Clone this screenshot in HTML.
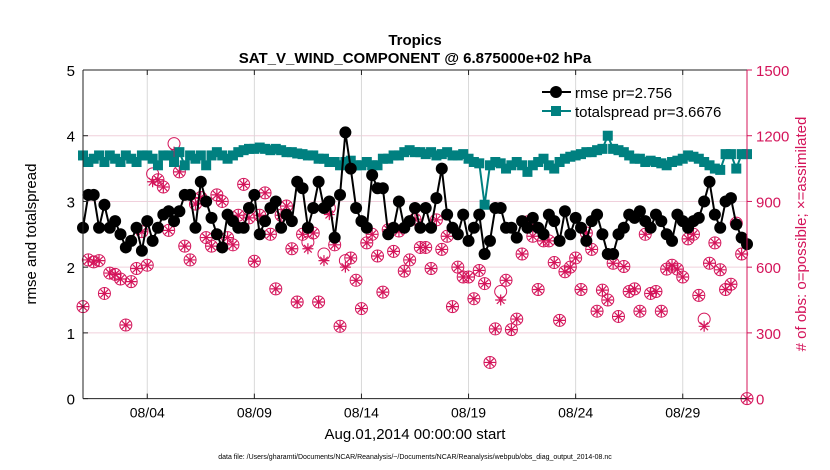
<!DOCTYPE html>
<html><head><meta charset="utf-8"><style>
body{margin:0;background:#fff;}
svg{display:block;font-family:"Liberation Sans",sans-serif;}
</style></head><body>
<svg id="chart" width="830" height="470">
<g id="grid"></g>
<g id="plot"></g>
<g id="axes"></g>
<text x="415" y="45" text-anchor="middle" font-size="15" font-weight="bold">Tropics</text>
<text x="415" y="63" text-anchor="middle" font-size="15" font-weight="bold">SAT_V_WIND_COMPONENT @ 6.875000e+02 hPa</text>
<text x="415" y="439" text-anchor="middle" font-size="15">Aug.01,2014 00:00:00 start</text>
<text transform="translate(36,234) rotate(-90)" text-anchor="middle" font-size="15">rmse and totalspread</text>
<text transform="translate(806,234) rotate(-90)" text-anchor="middle" font-size="15" fill="#d4145a"># of obs: o=possible; ×=assimilated</text>
<text x="415" y="459" text-anchor="middle" font-size="7">data file: /Users/gharamti/Documents/NCAR/Reanalysis/~/Documents/NCAR/Reanalysis/webpub/obs_diag_output_2014-08.nc</text>
<g>
<line x1="542" y1="92" x2="571" y2="92" stroke="#000" stroke-width="2"/>
<circle cx="556" cy="92" r="6" fill="#000"/>
<text x="575" y="98" font-size="15">rmse pr=2.756</text>
<line x1="542" y1="111" x2="571" y2="111" stroke="#008080" stroke-width="2"/>
<rect x="551" y="106" width="10" height="10" fill="#008080"/>
<text x="575" y="117" font-size="15">totalspread pr=3.6676</text>
</g>
</svg>
<script>
const rmse=[2.6,3.1,3.1,2.6, 2.95,2.6,2.7,2.5, 2.3,2.4,2.6,2.25, 2.7,2.4,2.6,2.8, 2.85,2.7,2.85,3.1, 3.1,2.6,3.3,3.0, 2.75,2.5,2.3,2.8, 2.7,2.6,2.6,2.9, 3.1,2.5,2.7,2.9, 3.0,2.6,2.8,2.7, 3.3,3.2,2.6,2.9, 3.3,2.9,3.0,2.45, 3.1,4.05,3.5,2.9, 2.7,2.6,3.4,3.2, 3.2,2.5,2.6,3.0, 2.6,2.7,2.9,2.6, 2.9,2.6,3.05,3.5, 2.8,2.6,2.5,2.8, 2.4,2.6,2.8,2.2, 2.4,2.9,2.9,2.6, 2.6,2.45,2.7,2.6, 2.75,2.6,2.5,2.8, 2.7,2.4,2.85,2.5, 2.75,2.6,2.4,2.7, 2.8,2.5,2.2,2.2, 2.5,2.6,2.8,2.75, 2.85,2.7,2.6,2.8, 2.7,2.5,2.4,2.8, 2.7,2.6,2.7,2.75, 3.0,3.3,2.8,2.6, 3.0,3.05,2.65,2.45,2.35];
const spread=[3.7,3.6,3.65,3.7, 3.6,3.7,3.65,3.6, 3.7,3.65,3.6,3.7, 3.7,3.65,3.55,3.7, 3.7,3.6,3.75,3.55, 3.7,3.65,3.7,3.55, 3.7,3.75,3.7,3.65, 3.7,3.75,3.78,3.8, 3.8,3.82,3.8,3.78, 3.8,3.78,3.75,3.75, 3.73,3.72,3.7,3.7, 3.65,3.65,3.6,3.6, 3.55,3.6,3.62,3.55, 3.55,3.6,3.55,3.55, 3.65,3.65,3.7,3.7, 3.75,3.78,3.75,3.75, 3.72,3.75,3.7,3.72, 3.75,3.7,3.7,3.72, 3.65,3.6,3.58,2.95, 3.55,3.6,3.58,3.5, 3.55,3.6,3.55,3.45, 3.55,3.6,3.65,3.55, 3.5,3.6,3.65,3.68, 3.7,3.72,3.75,3.75, 3.78,3.8,4.0,3.8, 3.78,3.75,3.7,3.65, 3.65,3.6,3.62,3.6, 3.58,3.55,3.6,3.62, 3.65,3.7,3.68,3.65, 3.6,3.55,3.5,3.48, 3.72,3.72,3.5,3.72,3.72];
const possible=[420,633,624,630,480,573,567,546,336,534,594,762,609,1026,999,966,768,1164,1035,696,633,888,918,735,696,930,900,735,702,837,978,
825,627,837,939,750,501,837,879,684,441,750,714,756,441,660,870,702,330,630,642,540,411,711,750,651,486,771,672,765,582,633,819,690,
690,594,816,681,741,420,600,555,555,456,585,525,165,318,489,540,315,363,660,807,741,498,720,720,621,357,579,600,642,498,756,681,
399,495,450,618,375,603,489,501,399,750,480,489,399,591,609,591,555,729,750,471,363,618,711,588,498,522,801,660,0];
const assimilated=[420,633,624,630,480,573,567,546,336,534,594,762,609,990,999,966,768,1125,1035,696,633,888,918,735,696,930,900,735,702,837,978,
825,627,837,939,750,501,837,879,684,441,750,684,756,441,630,840,702,330,600,642,540,411,711,750,651,486,771,672,765,582,633,819,690,
690,594,816,681,741,420,600,555,555,456,585,525,165,318,450,540,315,363,660,807,741,498,720,720,621,357,579,600,642,498,756,681,
399,495,450,618,375,603,489,501,399,750,480,489,399,591,609,591,555,729,750,471,330,618,711,588,498,522,801,660,0];
const xTickLabels=["08/04","08/09","08/14","08/19","08/24","08/29"];
const xTickDays=[3,8,13,18,23,28];
const yTicks=[0,1,2,3,4,5];
const y2Ticks=[0,300,600,900,1200,1500];

const L=83,R=747,T=70,B=398.6,DAYS=31;
const NS="http://www.w3.org/2000/svg";
const xDay=d=>L+(R-L)*d/DAYS;
const xIdx=(i,n)=>xDay(i*DAYS/(n-1));
const yL=v=>B-(B-T)*v/5;
const yR=v=>B-(B-T)*v/1500;
function mk(tag,attrs,parent){const e=document.createElementNS(NS,tag);for(const k in attrs)e.setAttribute(k,attrs[k]);parent.appendChild(e);return e;}
const grid=document.getElementById('grid'),plot=document.getElementById('plot'),axes=document.getElementById('axes');
const CR="#d4145a";
// grid
yTicks.slice(1,5).forEach(v=>{const g=mk('line',{x1:L,x2:R,y1:yL(v),y2:yL(v),stroke:"#f0d0dc","stroke-width":1},grid);

});
xTickDays.forEach((d,i)=>{const g=mk('line',{x1:xDay(d),x2:xDay(d),y1:T,y2:B,stroke:"#d8d8d8","stroke-width":1},grid);


mk('line',{x1:xDay(d),x2:xDay(d),y1:B,y2:B-5,stroke:"#222"},axes);
mk('line',{x1:xDay(d),x2:xDay(d),y1:T,y2:T+5,stroke:"#222"},axes);
const t=mk('text',{x:xDay(d),y:B+19,"text-anchor":"middle","font-size":14},axes);t.textContent=xTickLabels[i];

});
// frame
mk('line',{x1:L,x2:R,y1:T,y2:T,stroke:"#222"},axes);
mk('line',{x1:L,x2:R,y1:B,y2:B,stroke:"#222"},axes);
mk('line',{x1:L,x2:L,y1:T,y2:B,stroke:"#222"},axes);
mk('line',{x1:R,x2:R,y1:T,y2:B,stroke:CR},axes);
yTicks.forEach(v=>{mk('line',{x1:L,x2:L+5,y1:yL(v),y2:yL(v),stroke:"#222"},axes);
const t=mk('text',{x:L-8,y:yL(v)+6,"text-anchor":"end","font-size":15},axes);t.textContent=v;

});
y2Ticks.forEach(v=>{mk('line',{x1:R,x2:R+5,y1:yR(v),y2:yR(v),stroke:CR},axes);
const t=mk('text',{x:R+9,y:yR(v)+6,"font-size":15,fill:CR},axes);t.textContent=v;

});
// observation counts
possible.forEach((v,i)=>{const c=mk('circle',{cx:xIdx(i,possible.length),cy:yR(v),r:6,fill:"none",stroke:CR,"stroke-width":1},plot);

});
assimilated.forEach((v,i)=>{const x=xIdx(i,assimilated.length),y=yR(v),s=5.5;
const p=mk('path',{d:`M${x-s},${y}H${x+s}M${x},${y-s}V${y+s}M${x-s*.7},${y-s*.7}L${x+s*.7},${y+s*.7}M${x-s*.7},${y+s*.7}L${x+s*.7},${y-s*.7}`,stroke:CR,"stroke-width":1.2,fill:"none"},plot);

});
// spread
const sp=mk('polyline',{points:spread.map((v,i)=>xIdx(i,spread.length)+","+yL(v)).join(" "),fill:"none",stroke:"#008080","stroke-width":2},plot);


spread.forEach((v,i)=>{const r=mk('rect',{x:xIdx(i,spread.length)-5,y:yL(v)-5,width:10,height:10,fill:"#008080"},plot);

});
// rmse
const rl=mk('polyline',{points:rmse.map((v,i)=>xIdx(i,rmse.length)+","+yL(v)).join(" "),fill:"none",stroke:"#000","stroke-width":2},plot);


rmse.forEach((v,i)=>{const c=mk('circle',{cx:xIdx(i,rmse.length),cy:yL(v),r:6,fill:"#000"},plot);

});
</script>
</body></html>
